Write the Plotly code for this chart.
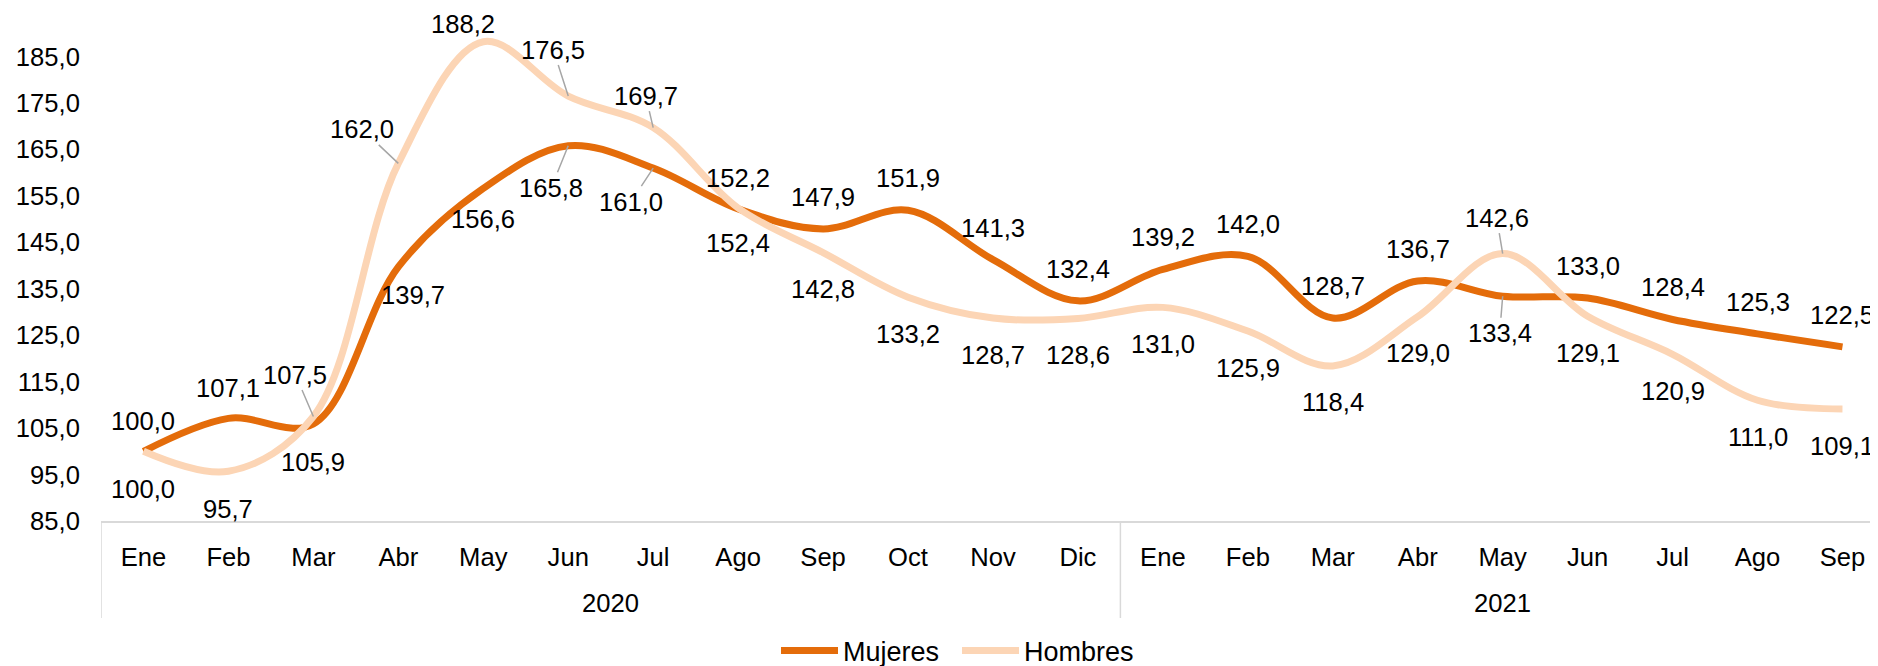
import plotly.graph_objects as go

# ---------------- data ----------------
meses = ["Ene", "Feb", "Mar", "Abr", "May", "Jun", "Jul", "Ago", "Sep", "Oct", "Nov", "Dic",
         "Ene", "Feb", "Mar", "Abr", "May", "Jun", "Jul", "Ago", "Sep"]
anios = ["2020", "2021"]
meses_por_anio = [12, 9]
mujeres = [100.0, 107.1, 105.9, 139.7, 156.6, 165.8, 161.0, 152.2, 147.9, 151.9, 141.3, 132.4,
           139.2, 142.0, 128.7, 136.7, 133.4, 133.0, 128.4, 125.3, 122.5]
hombres = [100.0, 95.7, 107.5, 162.0, 188.2, 176.5, 169.7, 152.4, 142.8, 133.2, 128.7, 128.6,
           131.0, 125.9, 118.4, 129.0, 142.6, 129.1, 120.9, 111.0, 109.1]
y_ticks = [85, 95, 105, 115, 125, 135, 145, 155, 165, 175, 185]

# ---------------- style ----------------
FONT = "Liberation Sans, Arial, sans-serif"
FS = 25.6
FS_LEG = 27
C_MUJ = "#E46C0A"
C_HOM = "#FCD5B5"
GRID = "#D9D9D9"
BODY = 8                      # default page margin around the figure
W, H = 1878 - BODY, 666 - BODY
ML, MR, MT, MB = 101 - BODY, 0, 10 - BODY, 145
PX_PER_UNIT = 4.644
SLOT = 84.95

plot_h = H - MT - MB
plot_w = W - ML - MR
plot_bottom = H - MB          # in figure pixels
y_range = [85, 85 + plot_h / PX_PER_UNIT]
x_range = [-0.5, -0.5 + plot_w / SLOT]


def fmt(v):
    return f"{v:.1f}".replace(".", ",")


def paper_y(page_px):
    return -((page_px - BODY) - plot_bottom) / plot_h


x = list(range(len(meses)))

fig = go.Figure()
fig.add_trace(go.Scatter(x=x, y=mujeres, name="Mujeres", mode="lines",
                         line=dict(color=C_MUJ, width=7, shape="spline", smoothing=1.0),
                         hoverinfo="skip"))
fig.add_trace(go.Scatter(x=x, y=hombres, name="Hombres", mode="lines",
                         line=dict(color=C_HOM, width=7, shape="spline", smoothing=1.0),
                         hoverinfo="skip"))

# label placement (styling only): default above for Mujeres, below for Hombres
ABOVE, BELOW = 32, -36.5
muj_pos = {0: ("s", 0, 30), 1: ("s", 0, 30), 2: ("s", 0, -37.6), 3: ("s", 14.5, -28),
           4: ("s", 0, -31), 5: ("a", -17, 42), 6: ("a", -22, 33.5), 7: ("s", 0, 31.4),
           16: ("a", -3, 37)}
hom_pos = {0: ("s", 0, -37.5), 1: ("s", 0, -38), 2: ("a", -18, -42), 3: ("a", -36, -34),
           4: ("s", -20.5, 17.5), 5: ("a", -15, -46.5), 6: ("a", -7.5, -32), 7: ("s", 0, -35),
           16: ("a", -6, -36)}

annotations = []


def add_labels(values, pos, default):
    for i, v in enumerate(values):
        kind, dx, dy = pos.get(i, ("s", 0, default))
        base = dict(x=i, y=v, xref="x", yref="y", text=fmt(v),
                    font=dict(family=FONT, size=FS, color="#000000"))
        if kind == "s":
            base.update(showarrow=False, xshift=dx, yshift=dy,
                        xanchor="center", yanchor="middle")
        else:
            base.update(showarrow=True, ax=dx, ay=dy, arrowhead=0, arrowwidth=1.5,
                        arrowcolor="#A6A6A6", standoff=0)
        annotations.append(base)


add_labels(mujeres, muj_pos, ABOVE)
add_labels(hombres, hom_pos, BELOW)

# year group labels and dividers
shapes = []
start = 0
year_y = paper_y(603)
div_bottom = paper_y(618)
for anio, n in zip(anios, meses_por_anio):
    centre = start + (n - 1) / 2
    annotations.append(dict(x=centre, y=year_y, xref="x", yref="paper", text=anio,
                            showarrow=False, xanchor="center", yanchor="middle",
                            font=dict(family=FONT, size=FS, color="#000000")))
    shapes.append(dict(type="line", xref="x", yref="paper", x0=start - 0.5, x1=start - 0.5,
                       y0=0, y1=div_bottom, line=dict(color=GRID, width=1.5)))
    start += n
shapes.append(dict(type="line", xref="x", yref="paper", x0=start - 0.5, x1=start - 0.5,
                   y0=0, y1=div_bottom, line=dict(color=GRID, width=1.5)))

fig.update_layout(
    width=W, height=H,
    margin=dict(l=ML, r=MR, t=MT, b=MB, pad=0, autoexpand=False),
    paper_bgcolor="white", plot_bgcolor="white",
    separators=",.",
    font=dict(family=FONT, size=FS, color="#000000"),
    showlegend=True,
    legend=dict(orientation="h", x=(776 - BODY - ML) / plot_w, xanchor="left",
                y=paper_y(651), yanchor="middle",
                font=dict(family=FONT, size=FS_LEG, color="#000000"),
                bgcolor="rgba(0,0,0,0)", itemwidth=57,
                entrywidth=109, entrywidthmode="pixels"),
    annotations=annotations,
    shapes=shapes,
    xaxis=dict(range=x_range, tickmode="array", tickvals=x, ticktext=meses,
               showgrid=False, zeroline=False, showline=True, linecolor=GRID, linewidth=1.5,
               ticks="outside", ticklen=13, tickcolor="rgba(0,0,0,0)", automargin=False,
               tickfont=dict(family=FONT, size=FS, color="#000000"), fixedrange=True),
    yaxis=dict(range=y_range, tickmode="array", tickvals=y_ticks, tickformat=".1f",
               showgrid=False, zeroline=False, showline=False,
               ticks="outside", ticklen=15, tickcolor="rgba(0,0,0,0)", automargin=False,
               tickfont=dict(family=FONT, size=FS, color="#000000"), fixedrange=True),
)

fig.write_html("out.html")
